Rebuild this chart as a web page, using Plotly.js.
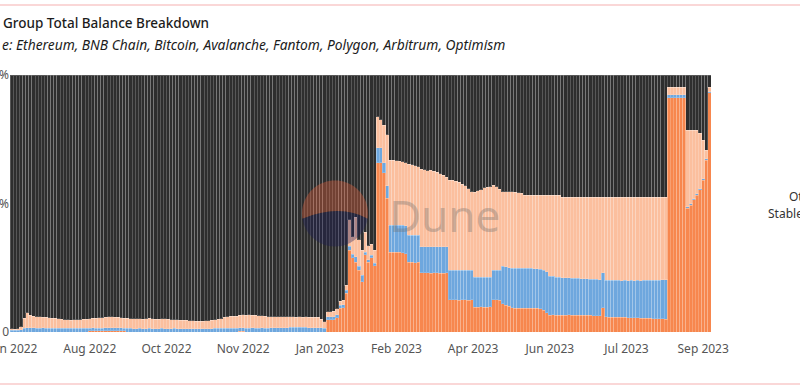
<!DOCTYPE html>
<html>
<head>
<meta charset="utf-8">
<script src="https://cdn.plot.ly/plotly-3.0.1.min.js"></script>
<style>html,body{margin:0;padding:0;background:#fff;}#chart{width:800px;height:389px;}</style>
</head>
<body>
<div id="chart"></div>
<script>
// one bar every 2 days starting 2022-06-25 (224 bars)
const startDate = '2022-06-25';
const stepDays = 2;

const orange = [
0,0,0,0,0,0,0,0,0,0,
0,0,0,0,0,0,0,0,0,0,
0,0,0,0,0,0.4,0.5,0.5,0.4,0.5,
0.5,0.4,0.5,0.5,0.4,0.5,0.4,0,0,0,
0,0,0,0,0,0,0,0,0,0,
0,0,0,0,0,0,0,0,0,0,
0,0,0,0,0,0,0,0,0,0,
0,0,0,0.3,0.3,0,0,0,0,0,
0,0,0,0,0,0,0,0,0,0,
0,0,0,0,0,0,0,0,0,0,
0,4.7,4.7,4.8,5.5,9.3,9.5,15.0,31.9,28.8,
27.2,24.1,19.5,30.0,27.2,28.8,25.7,65.8,65.8,61.9,
52.0,31.1,31.1,31.0,31.1,30.8,30.5,27.2,27.2,27.0,
27.1,23.0,23.0,23.1,22.9,23.0,23.0,22.8,22.9,23.0,
12.5,12.5,12.6,12.4,12.5,12.5,12.4,12.5,9.7,9.7,
9.8,9.7,9.7,9.8,12.5,12.5,12.4,11.0,10.5,10.0,
9.5,9.3,9.3,9.2,9.3,9.3,9.2,9.3,9.2,9.1,
8.5,7.5,6.6,6.7,6.6,6.5,6.6,6.6,6.7,6.6,
6.5,6.6,6.6,6.5,6.6,6.5,6.4,6.4,6.3,9.5,
5.9,5.8,5.8,5.7,5.8,5.7,5.7,5.6,5.6,5.5,
5.5,5.4,5.4,5.3,5.3,5.2,5.2,5.1,5.1,5.0,
91.1,91.1,91.1,91.1,91.1,91.1,48.2,49.4,51.4,53.3,
55.3,59.1,66.9,93.0
];

const blue = [
0.6,0.6,0.7,0.8,1.5,1.6,1.6,1.6,1.5,1.5,
1.6,1.5,1.5,1.4,1.5,1.5,1.4,1.4,1.5,1.4,
1.4,1.4,1.5,1.4,1.4,1.1,1.1,1.0,1.1,1.0,
1.1,1.2,1.1,1.1,1.2,1.1,1.1,1.5,1.4,1.3,
1.3,1.4,1.3,1.3,1.4,1.3,1.3,1.3,1.4,1.3,
1.3,1.3,1.4,1.3,1.3,1.3,1.3,1.2,1.3,1.3,
1.3,1.2,1.3,1.3,1.3,1.4,1.4,1.4,1.5,1.5,
1.5,1.5,1.5,1.3,1.3,1.5,1.5,1.6,1.5,1.5,
1.6,1.5,1.5,1.6,1.6,1.6,1.6,1.7,1.7,1.8,
1.8,1.8,1.9,1.8,1.8,1.7,1.7,1.6,1.6,1.6,
1.5,1.2,1.2,1.2,1.2,1.2,1.2,1.2,1.5,1.5,
2.0,1.5,2.5,1.0,1.0,1.0,1.0,5.8,5.8,3.9,
5.0,10.5,10.5,10.6,10.5,10.8,10.8,10.5,10.5,10.7,
10.6,10.1,10.1,10.0,10.2,10.1,10.2,10.3,10.2,10.1,
11.6,11.6,11.5,11.7,11.6,11.6,11.7,11.6,11.7,11.7,
11.6,11.7,11.7,11.6,11.6,11.6,11.7,14.5,14.8,15.0,
15.4,15.6,15.6,15.7,15.6,15.5,15.6,15.4,15.4,15.3,
15.5,16.0,15.0,14.9,14.8,14.8,14.6,14.5,14.4,14.4,
14.4,14.3,14.2,14.2,14.1,14.1,14.2,14.1,14.1,13.5,
14.3,14.4,14.3,14.4,14.3,14.3,14.4,14.4,14.5,14.5,
14.6,14.6,14.7,14.8,14.8,14.9,15.0,15.1,15.2,15.3,
1.2,1.2,1.2,1.2,1.2,1.2,0.5,0.5,0.5,0.5,
0.5,0.5,0.5,0.5
];

const stables = [
0.6,0.5,0.6,1.2,3.9,5.8,4.9,4.6,4.5,4.4,
4.2,4.3,4.1,4.0,3.8,3.6,3.5,3.4,3.3,3.2,
3.3,3.4,3.3,3.5,3.6,3.7,3.8,3.9,4.0,4.1,
4.2,4.3,4.4,4.2,4.1,4.0,3.9,3.8,3.8,3.8,
3.9,3.8,3.7,3.8,3.9,3.8,3.7,3.6,3.7,3.8,
3.7,3.5,3.4,3.4,3.3,3.2,3.2,3.1,3.0,2.9,
2.9,3.0,3.0,3.1,3.2,3.4,3.6,3.8,4.2,4.5,
4.6,4.6,4.7,5.0,5.1,5.1,5.2,5.0,5.0,4.9,
4.7,4.6,4.5,4.4,4.4,4.3,4.3,4.2,4.2,4.1,
4.1,4.0,4.0,4.0,4.1,4.0,4.0,4.1,4.2,3.4,
2.4,2.0,2.0,2.1,2.3,1.5,1.6,2.0,10.2,6.7,
15.5,10.2,9.9,7.9,5.3,4.4,5.2,12.1,10.9,14.7,
19.7,25.3,25.3,25.0,24.9,24.6,24.5,27.5,27.3,26.9,
26.6,30.2,30.0,29.7,29.8,29.5,28.9,28.4,27.8,27.2,
35.0,35.0,34.5,34.2,33.4,32.8,31.6,30.5,33.0,33.5,
34.0,34.7,35.0,35.2,33.1,32.4,31.4,29.0,29.2,29.5,
29.6,29.4,29.3,29.1,28.4,28.5,28.5,28.5,28.6,28.8,
29.3,29.8,31.7,31.7,31.9,31.9,31.3,31.4,31.4,31.5,
31.6,31.6,31.7,31.8,31.8,31.9,31.9,31.9,32.0,29.5,
32.3,32.2,32.3,32.3,32.4,32.5,32.4,32.5,32.3,32.4,
32.4,32.5,32.4,32.3,32.3,32.4,32.3,32.3,32.2,32.2,
3.0,3.0,3.0,3.0,3.0,3.0,29.9,28.7,26.7,24.8,
21.6,15.1,3.4,1.8
];

const other = [
98.8,98.9,98.7,98.0,94.6,92.6,93.5,93.8,94.0,94.1,
94.2,94.2,94.4,94.6,94.7,94.9,95.1,95.2,95.2,95.4,
95.3,95.2,95.2,95.1,95.0,94.8,94.6,94.6,94.5,94.4,
94.2,94.1,94.0,94.2,94.3,94.4,94.6,94.7,94.8,94.9,
94.8,94.8,95.0,94.9,94.7,94.9,95.0,95.1,94.9,94.9,
95.0,95.2,95.2,95.3,95.4,95.5,95.5,95.7,95.7,95.8,
95.8,95.8,95.7,95.6,95.5,95.2,95.0,94.8,94.3,94.0,
93.9,93.9,93.8,93.4,93.3,93.4,93.3,93.4,93.5,93.6,
93.7,93.9,94.0,94.0,94.0,94.1,94.1,94.1,94.1,94.1,
94.1,94.2,94.1,94.2,94.1,94.3,94.3,94.3,94.2,95.0,
96.1,92.1,92.1,91.9,91.0,88.0,87.7,81.8,56.4,63.0,
55.3,64.2,68.1,61.1,66.5,65.8,68.1,16.3,17.5,19.5,
23.3,33.1,33.1,33.4,33.5,33.8,34.2,34.8,35.0,35.4,
35.7,36.7,36.9,37.2,37.1,37.4,37.9,38.5,39.1,39.7,
40.9,40.9,41.4,41.7,42.5,43.1,44.3,45.4,45.6,45.1,
44.6,43.9,43.6,43.4,42.8,43.5,44.5,45.5,45.5,45.5,
45.5,45.7,45.8,46.0,46.7,46.7,46.7,46.8,46.8,46.8,
46.7,46.7,46.7,46.7,46.7,46.8,47.5,47.5,47.5,47.5,
47.5,47.5,47.5,47.5,47.5,47.5,47.5,47.6,47.6,47.5,
47.5,47.6,47.6,47.6,47.5,47.5,47.5,47.5,47.6,47.6,
47.5,47.5,47.5,47.6,47.6,47.5,47.5,47.5,47.5,47.5,
4.7,4.7,4.7,4.7,4.7,4.7,21.4,21.4,21.4,21.4,
22.6,25.3,29.2,4.7
];

const tickDates = ['2022-06-26','2022-08-14','2022-10-02','2022-11-20','2023-01-08','2023-02-26','2023-04-16','2023-06-04','2023-07-23','2023-09-10'];
const tickLabels = ['Jun 2022','Aug 2022','Oct 2022','Nov 2022','Jan 2023','Feb 2023','Apr 2023','Jun 2023','Jul 2023','Sep 2023'];
const yTickVals = [0, 50, 100];
const yTickLabels = ['0', '50%', '100%'];

function buildDates(n) {
  const out = [];
  const base = new Date(startDate + 'T00:00:00Z');
  for (let i = 0; i < n; i++) {
    const d = new Date(base.getTime() + i * stepDays * 86400000);
    out.push(d.toISOString().slice(0, 10));
  }
  return out;
}
const x = buildDates(orange.length);

// plot area in pixels (for placing decorations)
const PL = 10, PR = 711, PT = 75, PB = 332;
const px = v => (v - PL) / (PR - PL);
const py = v => (PB - v) / (PB - PT);

const FONT = 'Noto Sans, Open Sans, sans-serif';
const traces = [
  {name: 'ETH', y: orange, color: '#f7874e'},
  {name: 'BTC', y: blue, color: '#6ea7de'},
  {name: 'Stablecoins', y: stables, color: '#fbbf9e'},
  {name: 'Other', y: other, color: '#2e2e2e'}
].map(s => ({
  type: 'bar', x: x, y: s.y, name: s.name,
  marker: {color: s.color, line: {width: 1, color: 'rgba(255,255,255,0.2)'}},
  showlegend: false, hoverinfo: 'skip'
}));

// Dune watermark logo: circle split by a curved edge (orange top, navy bottom)
const cx = 335, cy = 213.5, r = 33;
const aL = Math.PI * 0.95, aR = Math.PI * 0.05;
function arcPath(from, to, steps) {
  let p = '';
  for (let k = 0; k <= steps; k++) {
    const a = from + (to - from) * k / steps;
    p += (k === 0 ? 'M' : 'L') + px(cx + r * Math.cos(a)) + ',' + py(cy + r * Math.sin(a));
  }
  return p;
}
const ctrl = px(cx + 5) + ',' + py(cy - 10);
const lowerPath = arcPath(aL, aR, 30) + 'Q' + ctrl + ' ' + px(cx + r * Math.cos(aL)) + ',' + py(cy + r * Math.sin(aL)) + 'Z';
const upperPath = arcPath(aR, aL - 2 * Math.PI, 40) + 'Q' + ctrl + ' ' + px(cx + r * Math.cos(aR)) + ',' + py(cy + r * Math.sin(aR)) + 'Z';

const layout = {
  width: 800, height: 389,
  margin: {l: PL, r: 800 - PR, t: PT, b: 389 - PB},
  paper_bgcolor: '#ffffff', plot_bgcolor: '#ffffff',
  barmode: 'stack', barnorm: 'percent', bargap: 0,
  font: {family: FONT, size: 12, color: '#555555'},
  title: {
    text: 'Group Total Balance Breakdown',
    x: 3/800, xanchor: 'left', xref: 'container',
    y: 1 - 23/389, yanchor: 'middle', yref: 'container',
    font: {family: FONT, size: 13.5, color: '#1c1c1c', weight: 500}
  },
  xaxis: {
    type: 'date', tickmode: 'array', tickvals: tickDates, ticktext: tickLabels,
    showgrid: false, zeroline: false, showline: false, ticks: '',
    ticklabeloverflow: 'allow', ticklabelstandoff: 8,
    tickfont: {family: FONT, size: 12, color: '#555555'}
  },
  yaxis: {
    range: [0, 100], tickmode: 'array', tickvals: yTickVals, ticktext: yTickLabels,
    showgrid: false, zeroline: false, showline: false, ticks: '',
    ticklabeloverflow: 'allow',
    tickfont: {family: FONT, size: 12, color: '#555555'}
  },
  shapes: [
    {type: 'line', xref: 'paper', yref: 'paper', x0: -0.02, x1: 1.2, y0: py(5), y1: py(5), line: {color: '#f9caca', width: 1.5}},
    {type: 'line', xref: 'paper', yref: 'paper', x0: -0.02, x1: 1.2, y0: py(384), y1: py(384), line: {color: '#f9caca', width: 1.5}},
    {type: 'path', xref: 'paper', yref: 'paper', path: upperPath,
      fillcolor: 'rgba(240,100,60,0.35)', line: {width: 0}, layer: 'above'},
    {type: 'path', xref: 'paper', yref: 'paper', path: lowerPath,
      fillcolor: 'rgba(25,25,90,0.35)', line: {width: 0}, layer: 'above'}
  ],
  annotations: [
    {xref: 'paper', yref: 'paper', x: px(0), y: py(45), xanchor: 'left', yanchor: 'middle', showarrow: false,
      text: '<i>e: Ethereum, BNB Chain, Bitcoin, Avalanche, Fantom, Polygon, Arbitrum, Optimism</i>',
      font: {family: FONT, size: 13.8, color: '#1c1c1c'}},
    {xref: 'paper', yref: 'paper', x: px(387), y: py(215), xanchor: 'left', yanchor: 'middle', showarrow: false,
      text: 'Dune', font: {family: FONT, size: 44, color: 'rgba(110,110,110,0.35)'}},
    {xref: 'paper', yref: 'paper', x: px(787), y: py(196), xanchor: 'left', yanchor: 'middle', showarrow: false,
      text: 'Other', font: {family: FONT, size: 12, color: '#333333'}},
    {xref: 'paper', yref: 'paper', x: px(766), y: py(213), xanchor: 'left', yanchor: 'middle', showarrow: false,
      text: 'Stablecoins', font: {family: FONT, size: 12, color: '#333333'}}
  ]
};

Plotly.newPlot('chart', traces, layout, {displayModeBar: false, staticPlot: true});
</script>
</body>
</html>
